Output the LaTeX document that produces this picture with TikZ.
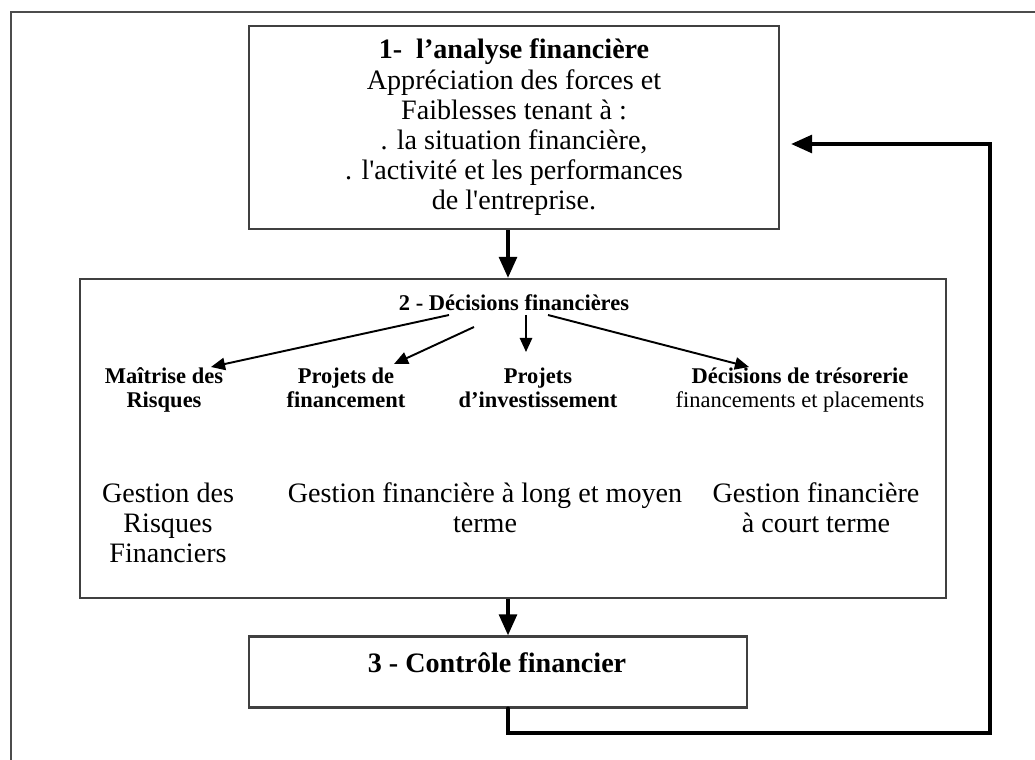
\documentclass[tikz,border=0pt]{standalone}
\usepackage{fontspec}
\setmainfont{Liberation Serif}[Ligatures=TeXOff]
\usetikzlibrary{arrows.meta}

\tikzset{
  boite/.style={draw=black!75, line width=1.2pt, inner sep=0pt, align=center},
  etiq/.style={font=\fontsize{12.8}{13.5}\selectfont\bfseries, align=center, inner sep=1pt, anchor=north},
  gestion/.style={font=\fontsize{16}{17}\selectfont, align=center, inner sep=1pt},
  grossefleche/.style={line width=2.3pt, -{Triangle[length=12pt,width=10pt]}},
  petitefleche/.style={line width=1.1pt, -{Triangle[length=8pt,width=7pt]}},
}

\begin{document}
\begin{tikzpicture}[x=0.02cm, y=-0.02cm]
\useasboundingbox (0,0) rectangle (1035,760);

% Cadre extérieur
\draw[black!70, line width=1.7pt] (11,770) -- (11,12) -- (1045,12);

% Les trois boîtes
\node[boite, minimum width=10.6cm, minimum height=4.06cm,
      font=\fontsize{16}{17.2}\selectfont] (analyse) at (514,127.5)
  {\textbf{1-\ \ l’analyse financière}\\Appréciation des forces et\\Faiblesses tenant à :\\. la situation financière,\\. l'activité et les performances\\de l'entreprise.};
\node[boite, minimum width=17.32cm, minimum height=6.38cm] (decisions) at (513,438.5) {};
\node[boite, minimum width=9.96cm, minimum height=1.42cm] (controle) at (498,672) {};
\node[font=\fontsize{16}{17}\selectfont\bfseries] (titrecontrole) at (497,663) {3 - Contrôle financier};

% Contenu de la boîte 2
\node[etiq, anchor=center] (titre) at (514,303) {2 - Décisions financières};
\node[etiq] (risques) at (164,366) {Maîtrise des\\Risques};
\node[etiq] (financement) at (346,366) {Projets de\\financement};
\node[etiq] (investissement) at (538,366) {Projets\\d’investissement};
\node[etiq] (tresorerie) at (800,366) {Décisions de trésorerie\\\mdseries financements et placements};

\node[gestion] (gr) at (168,523) {Gestion des\\Risques\\Financiers};
\node[gestion] (glm) at (485,508) {Gestion financière à long et moyen\\terme};
\node[gestion] (gct) at (816,508) {Gestion financière\\à court terme};

% Flèches internes
\coordinate (d1) at (449,315);
\coordinate (d2) at (474,327);
\coordinate (d3) at (526,315);
\coordinate (d4) at (548,315);
\draw[petitefleche] (d1) -- (211,367);
\draw[petitefleche] (d2) -- (394,364);
\draw[petitefleche] (d3) -- (526,352);
\draw[petitefleche] (d4) -- (749,367);

% Flèches principales
\coordinate (axe) at (508,0);
\draw[grossefleche] (analyse.south -| axe) -- (decisions.north -| axe);
\draw[grossefleche] (decisions.south -| axe) -- (controle.north -| axe);

% Retour vers l'analyse
\coordinate (coin) at (990,733);
\coordinate (retour) at (990,144);
\draw[grossefleche, line cap=round] (controle.south -| axe) |- (coin) -- (retour) -- ([xshift=0.22cm]analyse.east |- retour);

\end{tikzpicture}
\end{document}
